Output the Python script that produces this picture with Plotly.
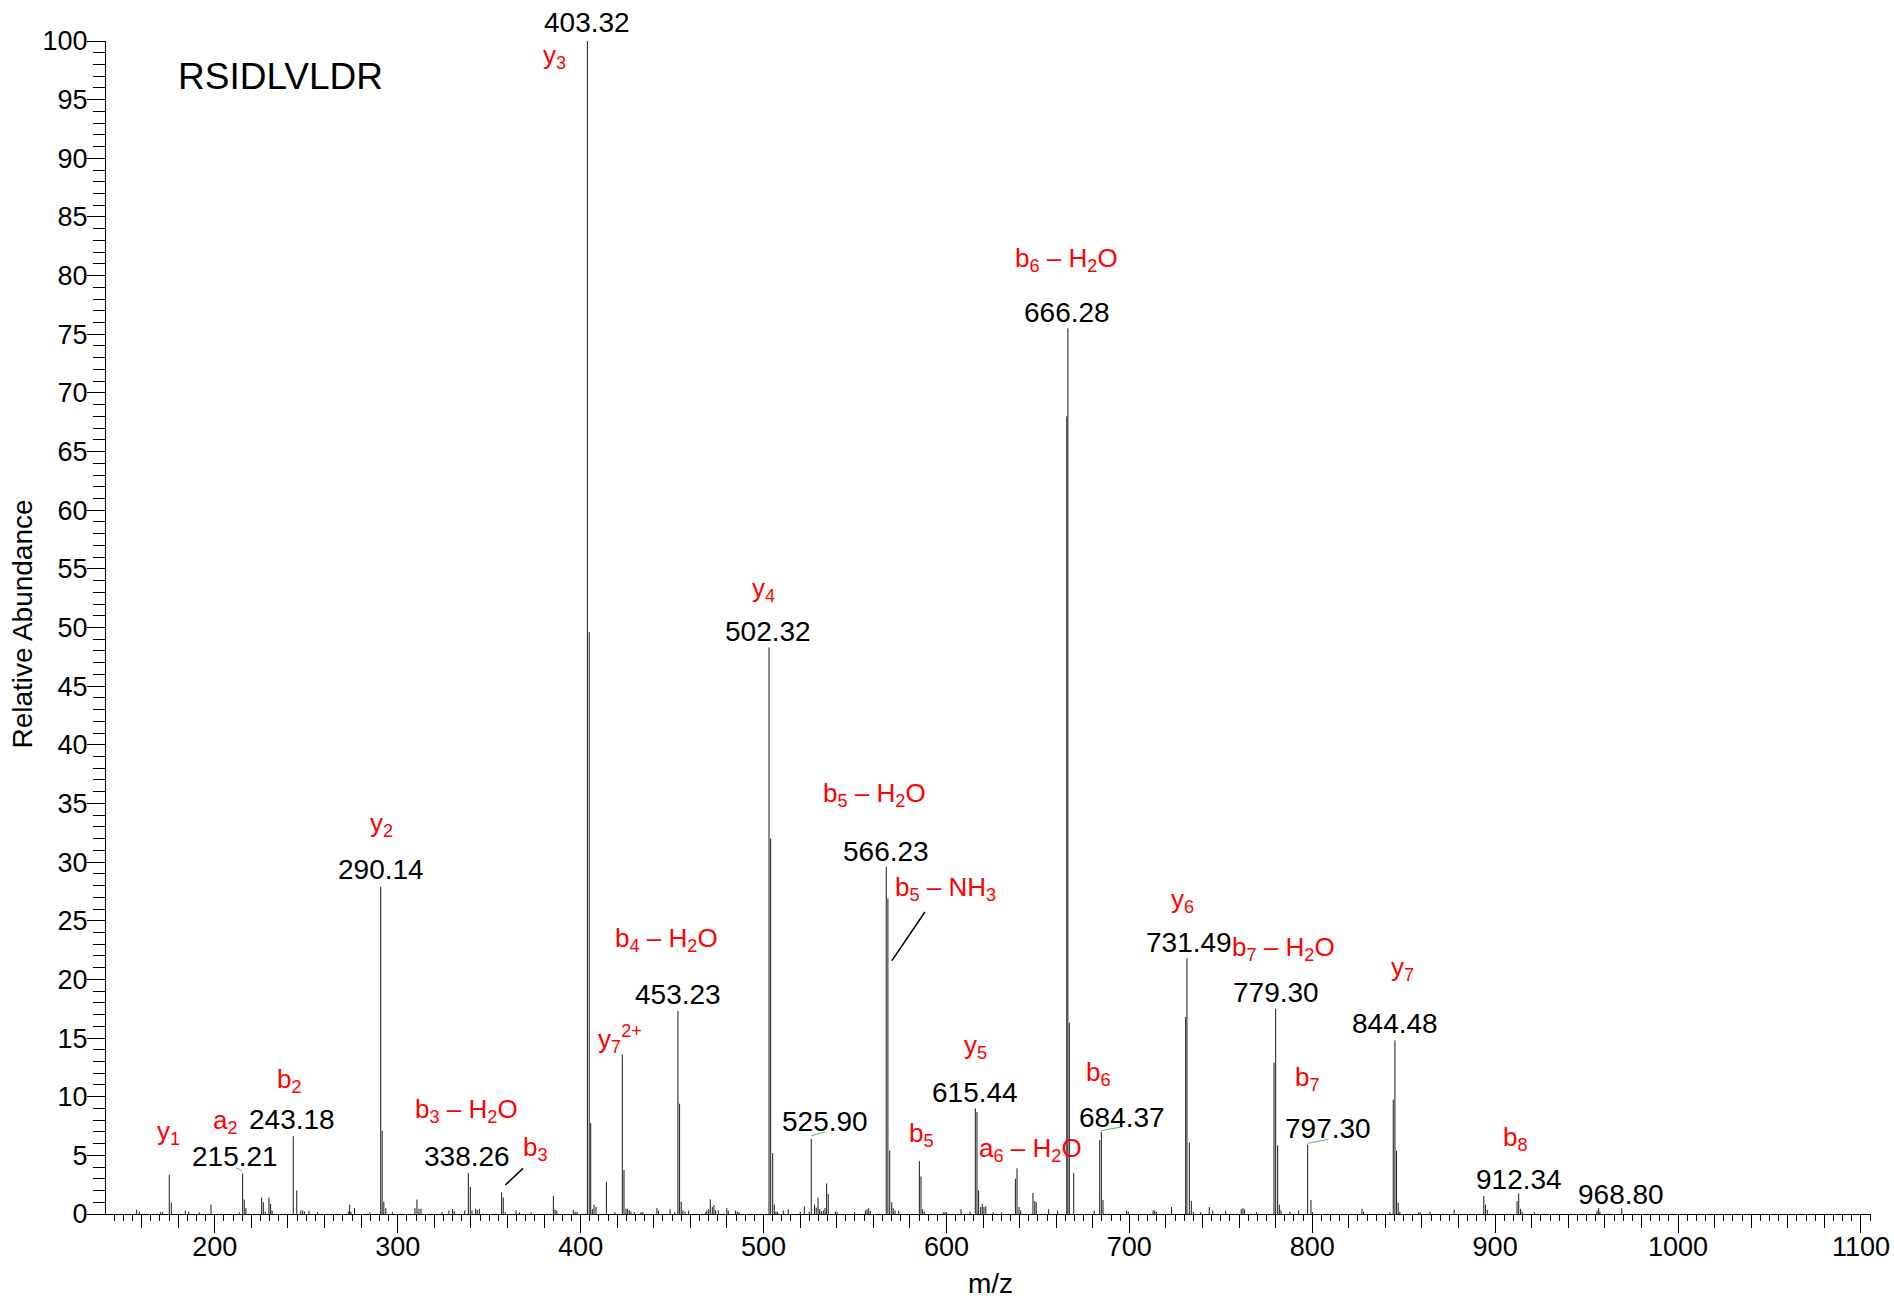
import plotly.graph_objects as go

# ---------------- data ----------------
peak_mz = [157.3, 158.7, 170.4, 171.5, 175.1, 176.2, 183.9, 185.7, 191.5, 197.9,
           213.4, 215.2, 216.1, 217.0, 225.6, 226.5, 227.6, 229.6, 230.5, 231.3,
           242.9, 244.8, 247.0, 248.0, 249.0, 251.5, 256.2, 273.0, 273.7, 274.4,
           276.4, 284.8, 290.7, 291.5, 292.4, 293.5, 297.2, 309.4, 310.5, 311.6,
           312.7, 324.2, 328.0, 330.0, 330.9, 336.6, 338.6, 339.7, 340.6, 342.6,
           343.5, 344.6, 356.8, 357.7, 358.8, 364.7, 366.5, 372.9, 385.1, 386.0,
           387.0, 396.0, 397.0, 398.0, 403.7, 404.7, 405.5, 406.4, 407.3, 408.4,
           414.1, 418.8, 422.8, 423.7, 424.8, 425.7, 426.6, 427.5, 429.3, 433.0,
           434.0, 441.7, 442.6, 448.9, 451.4, 453.2, 454.1, 455.0, 455.9, 457.1,
           459.1, 468.5, 469.0, 470.0, 470.9, 472.0, 472.9, 473.8, 475.3, 479.9,
           480.7, 484.7, 485.6, 486.6, 503.0, 503.9, 505.0, 505.9, 506.8, 507.7,
           510.8, 513.5, 520.1, 522.3, 525.0, 526.1, 527.9, 528.8, 529.8, 530.7,
           531.6, 532.7, 533.6, 534.5, 535.4, 539.3, 540.2, 549.8, 555.7, 556.6,
           557.5, 558.4, 567.1, 568.0, 569.0, 570.1, 570.9, 571.9, 573.9, 585.2,
           586.1, 587.0, 587.9, 598.3, 599.2, 600.1, 608.0, 612.9, 615.8, 616.7,
           617.6, 618.7, 619.6, 620.5, 621.5, 625.5, 630.2, 637.7, 638.6, 639.7,
           640.6, 647.3, 648.3, 649.1, 655.9, 660.8, 665.8, 666.4, 667.2, 669.6,
           680.8, 683.8, 684.7, 685.6, 698.5, 699.4, 713.0, 713.9, 714.8, 723.1,
           730.8, 731.5, 732.8, 733.9, 735.0, 739.0, 743.7, 745.6, 752.7, 761.2,
           762.1, 763.0, 769.6, 779.1, 780.0, 781.1, 782.0, 782.9, 787.8, 792.6,
           797.5, 799.3, 800.2, 827.2, 828.1, 842.5, 844.3, 845.2, 846.1, 847.0,
           847.9, 858.0, 859.0, 864.4, 877.6, 893.8, 894.7, 895.7, 912.0, 912.9,
           913.9, 914.8, 921.5, 955.7, 956.6, 957.3, 969.2]
peak_int = [0.37, 0.2, 0.15, 0.15, 3.34, 0.97, 0.3, 0.2, 0.15, 0.8,
            0.15, 3.46, 1.23, 0.5, 1.4, 1.0, 0.2, 1.4, 0.85, 0.3,
            6.63, 2.0, 0.3, 0.3, 0.2, 0.3, 0.15, 0.2, 0.8, 0.2,
            0.5, 0.15, 27.9, 7.1, 1.05, 0.5, 0.15, 0.5, 1.23, 0.45,
            0.45, 0.15, 0.3, 0.45, 0.25, 0.3, 3.49, 2.3, 0.3, 0.45,
            0.35, 0.45, 1.83, 1.4, 0.15, 0.3, 0.15, 0.15, 1.54, 0.4,
            0.3, 0.35, 0.2, 0.2, 100.0, 49.6, 7.76, 0.43, 0.8, 0.6,
            2.76, 0.15, 13.6, 3.75, 0.45, 0.45, 0.3, 0.2, 0.15, 0.15,
            0.15, 0.5, 0.3, 0.4, 0.15, 17.3, 9.4, 1.05, 0.3, 0.2,
            0.3, 0.15, 0.3, 0.4, 1.25, 0.6, 0.75, 0.3, 0.3, 0.5,
            0.3, 0.3, 0.2, 0.15, 48.3, 32.0, 5.2, 0.8, 0.2, 0.2,
            0.3, 0.4, 0.2, 0.65, 0.2, 6.4, 0.8, 0.55, 1.4, 0.4,
            0.25, 0.3, 0.5, 2.6, 1.7, 0.2, 0.2, 0.15, 0.3, 0.4,
            0.5, 0.25, 29.6, 26.9, 5.4, 1.0, 0.5, 0.3, 0.3, 4.5,
            3.2, 0.4, 0.2, 0.15, 0.15, 0.15, 0.4, 0.2, 9.0, 8.7,
            2.0, 0.6, 0.85, 0.6, 0.65, 0.15, 0.15, 3.0, 3.9, 0.6,
            0.3, 1.8, 1.1, 1.0, 0.4, 0.3, 68.0, 75.5, 16.3, 3.5,
            0.3, 6.3, 7.0, 1.2, 0.3, 0.2, 0.3, 0.3, 0.2, 0.6,
            16.8, 21.8, 6.1, 1.1, 0.2, 0.15, 0.6, 0.3, 0.3, 0.4,
            0.5, 0.4, 0.15, 12.9, 17.5, 5.85, 0.8, 0.3, 0.2, 0.3,
            5.9, 1.2, 0.15, 0.45, 0.2, 0.15, 9.75, 14.8, 5.4, 0.95,
            0.2, 0.15, 0.15, 0.2, 0.35, 1.55, 0.8, 0.35, 1.1, 1.75,
            0.45, 0.2, 0.15, 0.3, 0.5, 0.2, 0.5]

# m/z value labels (black)
num_mz = [215.2, 242.9, 290.7, 338.6, 403.7, 453.2, 503.0, 526.1, 567.1,
          615.8, 666.4, 684.7, 731.5, 780.0, 797.5, 845.2, 912.9, 969.2]
num_int = [3.46, 6.63, 27.9, 3.49, 100.0, 17.3, 48.3, 6.4, 29.6,
           9.0, 75.5, 7.0, 21.8, 17.5, 5.9, 14.8, 1.75, 0.5]
num_text = ["215.21", "243.18", "290.14", "338.26", "403.32", "453.23", "502.32",
            "525.90", "566.23", "615.44", "666.28", "684.37", "731.49", "779.30",
            "797.30", "844.48", "912.34", "968.80"]

# ion assignment labels (red)
ion_mz = [175.1, 215.2, 242.9, 290.7, 338.6, 356.8, 403.7, 422.8, 453.2, 503.0,
          567.1, 568.0, 585.2, 615.8, 638.6, 666.4, 684.7, 731.5, 780.0, 797.5,
          845.2, 912.9]
ion_int = [3.34, 3.46, 6.63, 27.9, 3.49, 1.83, 100.0, 13.6, 17.3, 48.3,
           29.6, 26.9, 4.5, 9.0, 3.9, 75.5, 7.0, 21.8, 17.5, 5.9,
           14.8, 1.75]
ion_text = ["y<sub>1</sub>", "a<sub>2</sub>", "b<sub>2</sub>", "y<sub>2</sub>",
            "b<sub>3</sub> \u2013 H<sub>2</sub>O", "b<sub>3</sub>", "y<sub>3</sub>",
            "y<sub>7</sub><sup>2+</sup>", "b<sub>4</sub> \u2013 H<sub>2</sub>O", "y<sub>4</sub>",
            "b<sub>5</sub> \u2013 H<sub>2</sub>O", "b<sub>5</sub> \u2013 NH<sub>3</sub>",
            "b<sub>5</sub>", "y<sub>5</sub>", "a<sub>6</sub> \u2013 H<sub>2</sub>O",
            "b<sub>6</sub> \u2013 H<sub>2</sub>O", "b<sub>6</sub>", "y<sub>6</sub>",
            "b<sub>7</sub> \u2013 H<sub>2</sub>O", "b<sub>7</sub>", "y<sub>7</sub>",
            "b<sub>8</sub>"]

peptide = "RSIDLVLDR"
x_range = [140.5, 1105.5]
y_range = [0, 100]

# ---------------- styles (pixel offsets) ----------------
num_shift = [(-8, 17), (-1, 17), (0, 17), (-1, 17), (0, 19), (0, 17), (-1, 16),
             (14, 17), (0, 15), (0, 16), (-1, 16), (20.5, 14.5), (2, 16), (0.5, 16),
             (20.5, 16), (0, 17), (0, 14), (-1, 14)]
ion_shift = [(-1, 42), (-17, 52), (-4, 56), (1, 62), (-1.6, 63), (34, 44), (-33, -15),
             (-2, 15), (-11, 72), (-5.5, 58), (-12, 72), (58, 10), (2, 27), (0, 62),
             (13, 18.5), (-1, 69), (-3, 58), (-4.5, 58), (8, 60), (0, 66), (7.6, 72),
             (-3, 55)]
green = "#5DBB63"
conn_anchor_mz = [215.2, 526.1, 684.7, 797.5, 356.8, 568.0]
conn_anchor_int = [3.46, 6.4, 7.0, 5.9, 1.83, 26.9]
conn_px = [(-6.6, 5.7, 0.1, 2.4), (0, 3.2, 13.7, 6.9), (0, 1.2, 21.4, 5.2),
           (0, 1.5, 21, 5.5), (3.7, 7.5, 21.4, 24.2), (4, -62.2, 37, -13.5)]
conn_color = [green, green, green, green, "black", "black"]

FONT = "Liberation Sans, Arial, Helvetica, sans-serif"

W, H = 1894, 1298
ML, MT = 106, 41
PW, PH = 1765, 1173
MR, MB = W - ML - PW, H - MT - PH

xs, ys = [], []
for m, h in zip(peak_mz, peak_int):
    xs += [m, m, None]
    ys += [0, h, None]

fig = go.Figure()
fig.add_trace(go.Scatter(x=xs, y=ys, mode="lines", line=dict(color="#1a1a1a", width=1),
                         hoverinfo="skip", showlegend=False))
# dummy trace to register the secondary (20-unit tick) axis
fig.add_trace(go.Scatter(x=[None], y=[None], xaxis="x2", yaxis="y", showlegend=False,
                         hoverinfo="skip"))

annotations = []
for m, h, t, (dx, dy) in zip(num_mz, num_int, num_text, num_shift):
    annotations.append(dict(x=m, y=h, xref="x", yref="y", text=t, showarrow=False,
                            xanchor="center", yanchor="middle", xshift=dx, yshift=dy,
                            font=dict(family=FONT, size=28, color="black")))
for m, h, t, (dx, dy) in zip(ion_mz, ion_int, ion_text, ion_shift):
    annotations.append(dict(x=m, y=h, xref="x", yref="y", text=t, showarrow=False,
                            xanchor="center", yanchor="middle", xshift=dx, yshift=dy,
                            font=dict(family=FONT, size=26, color="red")))
annotations.append(dict(x=(280 - 106) / PW, y=(1214 - 76) / PH, xref="paper", yref="paper",
                        text=peptide, showarrow=False, xanchor="center", yanchor="middle",
                        font=dict(family=FONT, size=37, color="black")))
annotations.append(dict(x=(22 - 106) / PW, y=(1214 - 624.5) / PH, xref="paper", yref="paper",
                        text="Relative Abundance", showarrow=False, textangle=-90,
                        xanchor="center", yanchor="middle",
                        font=dict(family=FONT, size=28, color="black")))
annotations.append(dict(x=(990.6 - 106) / PW, y=(1214 - 1283) / PH, xref="paper", yref="paper",
                        text="m/z", showarrow=False, xanchor="center", yanchor="middle",
                        font=dict(family=FONT, size=28, color="black")))

shapes = []
for m, h, (x0, y0, x1, y1), c in zip(conn_anchor_mz, conn_anchor_int, conn_px, conn_color):
    shapes.append(dict(type="line", xref="x", yref="y", xsizemode="pixel", ysizemode="pixel",
                       xanchor=m, yanchor=h, x0=x0, y0=y0, x1=x1, y1=y1,
                       line=dict(color=c, width=1.5 if c == "black" else 1)))

fig.update_layout(
    width=W, height=H,
    margin=dict(l=ML, r=MR, t=MT, b=MB, pad=0, autoexpand=False),
    paper_bgcolor="white", plot_bgcolor="white",
    font=dict(family=FONT, size=27, color="black"),
    annotations=annotations, shapes=shapes,
    xaxis=dict(range=x_range, showgrid=False, zeroline=False, showline=True,
               automargin=False,
               linecolor="black", linewidth=1, ticks="outside", ticklen=18,
               tickwidth=1, tickcolor="black", tick0=0, dtick=100,
               ticklabelstandoff=-9, ticklabeloverflow="allow",
               tickfont=dict(family=FONT, size=27, color="black"),
               minor=dict(ticks="outside", ticklen=6, tickwidth=1, tickcolor="black",
                          dtick=5, tick0=0, showgrid=False)),
    xaxis2=dict(range=x_range, overlaying="x", anchor="y", side="bottom",
                automargin=False,
                showgrid=False, zeroline=False, showline=False, showticklabels=False,
                ticks="outside", ticklen=13, tickwidth=1, tickcolor="black",
                tick0=0, dtick=20),
    yaxis=dict(range=y_range, showgrid=False, zeroline=False, showline=True,
               automargin=False,
               linecolor="black", linewidth=1, ticks="outside", ticklen=18,
               tickwidth=1, tickcolor="black", tick0=0, dtick=5,
               ticklabelstandoff=-6,
               tickfont=dict(family=FONT, size=27, color="black"),
               minor=dict(ticks="outside", ticklen=12, tickwidth=1, tickcolor="black",
                          dtick=1, tick0=0, showgrid=False)),
    showlegend=False,
)

fig.write_html("out.html",
               config={"displayModeBar": False},
               post_script="document.body.style.margin='0px';"
                           "document.documentElement.style.overflow='hidden';")
